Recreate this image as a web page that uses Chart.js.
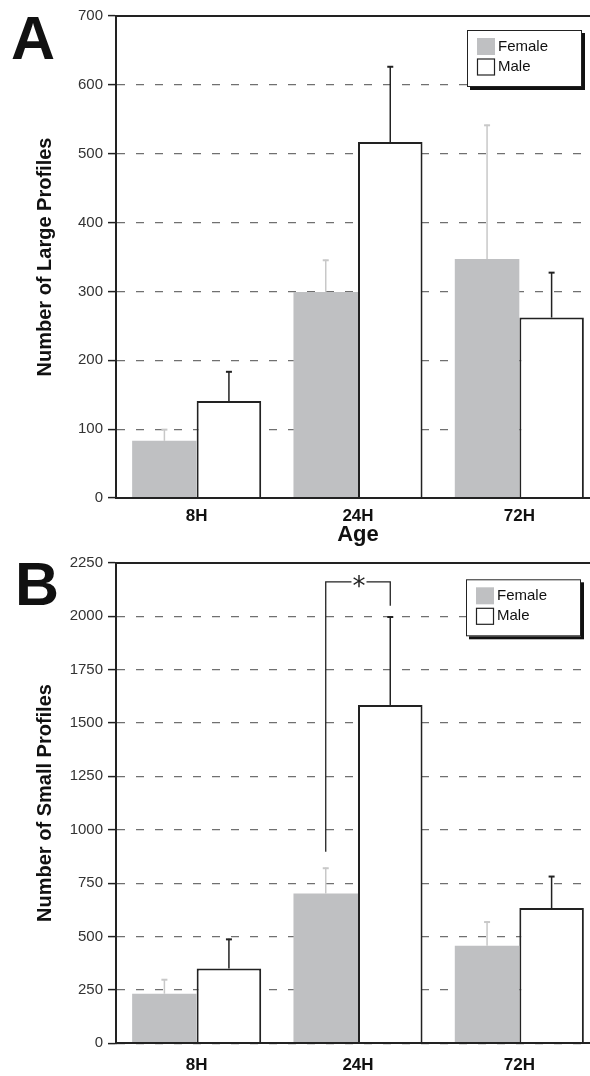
<!DOCTYPE html>
<html><head><meta charset="utf-8">
<script src="https://cdn.jsdelivr.net/npm/chart.js@4.4.0/dist/chart.umd.min.js"></script>
<style>
html,body{margin:0;padding:0;width:590px;height:1076px;overflow:hidden;background:#fff;}
.wrap{position:absolute;left:0;}
#wa{top:0;}
#wb{top:536px;}
canvas{display:block;}
</style></head><body>
<div class="wrap" id="wa"><canvas id="ca" width="610" height="548"></canvas></div>
<div class="wrap" id="wb"><canvas id="cb" width="610" height="540"></canvas></div>
<script>
// ---- data ----
const categories = ['8H', '24H', '72H'];
const seriesNames = ['Female', 'Male'];

const largeFemale    = [83, 299, 347];
const largeFemaleErr = [17, 47, 195];
const largeMale      = [141, 517, 262];
const largeMaleErr   = [43, 110, 66];
const largeTicks     = [0, 100, 200, 300, 400, 500, 600, 700];

const smallFemale    = [232, 701, 457];
const smallFemaleErr = [68, 121, 113];
const smallMale      = [350, 1584, 633];
const smallMaleErr   = [139, 414, 150];
const smallTicks     = [0, 250, 500, 750, 1000, 1250, 1500, 1750, 2000, 2250];

// significance bracket (values on the y scale)
const sigCategory = '24H';
const sigLevels   = [897, 2160, 2049]; // left leg start, bracket top, right leg end
const sigLabel    = '*';

const FONT = '"Liberation Sans", Arial, Helvetica, sans-serif';

const decor = {
  id: 'decor',
  afterDatasetsDraw(chart, args, o) {
    const ctx = chart.ctx;
    const y = chart.scales.y;
    // error bars
    chart.data.datasets.forEach((ds, di) => {
      const meta = chart.getDatasetMeta(di);
      meta.data.forEach((el, j) => {
        const top = y.getPixelForValue(ds.data[j] + ds.errors[j]);
        ctx.save();
        ctx.strokeStyle = ds.errColor;
        ctx.lineWidth = 1.5;
        ctx.beginPath();
        ctx.moveTo(el.x, el.y);
        ctx.lineTo(el.x, top);
        ctx.stroke();
        ctx.lineWidth = 2;
        ctx.beginPath();
        ctx.moveTo(el.x - 3, top + 0.5);
        ctx.lineTo(el.x + 3, top + 0.5);
        ctx.stroke();
        ctx.restore();
      });
    });
  },
  afterDraw(chart, args, o) {
    const ctx = chart.ctx;
    const y = chart.scales.y;
    const ca = chart.chartArea;
    // bracket
    if (o.bracket) {
      const idx = categories.indexOf(sigCategory);
      const xl = chart.getDatasetMeta(0).data[idx].x;
      const xr = chart.getDatasetMeta(1).data[idx].x;
      const yl = y.getPixelForValue(sigLevels[0]);
      const yt = y.getPixelForValue(sigLevels[1]);
      const yr = y.getPixelForValue(sigLevels[2]);
      const xm = (xl + xr) / 2 + 1;
      ctx.save();
      ctx.font = '26px "DejaVu Sans", sans-serif';
      const m = ctx.measureText(sigLabel);
      const gap = m.width / 2 + 1;
      ctx.strokeStyle = '#222';
      ctx.lineWidth = 1.3;
      ctx.beginPath();
      ctx.moveTo(xl, yl); ctx.lineTo(xl, yt); ctx.lineTo(xm - gap, yt);
      ctx.moveTo(xm + gap, yt); ctx.lineTo(xr, yt); ctx.lineTo(xr, yr);
      ctx.stroke();
      ctx.fillStyle = '#222';
      ctx.textAlign = 'center';
      ctx.textBaseline = 'alphabetic';
      const base = yt + (m.actualBoundingBoxAscent - m.actualBoundingBoxDescent) / 2;
      ctx.fillText(sigLabel, xm, base);
      ctx.restore();
    }
    // legend box
    const w = 115, h = 57;
    const bx = ca.right - o.legRight - w, by = ca.top + o.legTop;
    ctx.save();
    ctx.fillStyle = '#111';
    ctx.fillRect(bx + 3, by + 3, w, h);
    ctx.fillStyle = '#fff';
    ctx.fillRect(bx, by, w, h);
    ctx.strokeStyle = '#222';
    ctx.lineWidth = 1;
    ctx.strokeRect(bx + 0.5, by + 0.5, w - 1, h - 1);
    ctx.font = '15px ' + FONT;
    ctx.textBaseline = 'middle';
    ctx.textAlign = 'left';
    chart.data.datasets.forEach((ds, i) => {
      const cy = by + 16.5 + i * 20.5;
      if (i === 0) {
        ctx.fillStyle = ds.backgroundColor;
        ctx.fillRect(bx + 10, cy - 8.5, 18, 17);
      } else {
        ctx.fillStyle = '#fff';
        ctx.fillRect(bx + 10, cy - 8, 18, 16);
        ctx.strokeStyle = '#222';
        ctx.lineWidth = 1.2;
        ctx.strokeRect(bx + 10.5, cy - 8, 17, 16);
      }
      ctx.fillStyle = '#111';
      ctx.fillText(ds.label, bx + 31, cy);
    });
    // panel letter
    ctx.fillStyle = '#111';
    ctx.font = 'bold 61px ' + FONT;
    ctx.textBaseline = 'alphabetic';
    ctx.fillText(o.panel, o.panelX, o.panelY);
    ctx.restore();
  }
};

function makeChart(id, p) {
  return new Chart(document.getElementById(id), {
    type: 'bar',
    data: {
      labels: categories,
      datasets: [
        { label: seriesNames[0], data: p.female, errors: p.femaleErr, backgroundColor: '#bfc0c2',
          borderWidth: 0, errColor: '#c8c8c8' },
        { label: seriesNames[1], data: p.male, errors: p.maleErr, backgroundColor: '#ffffff',
          borderColor: '#222', borderWidth: 2, errColor: '#222' }
      ]
    },
    options: {
      responsive: false,
      animation: false,
      layout: { padding: { left: 0, top: p.padTop, right: 10, bottom: 0 } },
      datasets: { bar: { categoryPercentage: 0.8, barPercentage: 1.0 } },
      plugins: {
        legend: { display: false },
        tooltip: { enabled: false },
        decor: { bracket: p.bracket, legRight: p.legRight, legTop: p.legTop,
                 panel: p.panel, panelX: p.panelX, panelY: p.panelY }
      },
      scales: {
        x: {
          grid: { display: false, drawTicks: false },
          border: { display: true, color: '#222', width: 2, z: 1 },
          ticks: { color: '#111', font: { family: FONT, size: 17, weight: 'bold' }, padding: p.xPad },
          title: { display: !!p.xTitle, text: p.xTitle || '', color: '#111',
                   font: { family: FONT, size: 22, weight: 'bold' }, padding: { top: 0, bottom: 0 } },
          afterFit: s => { s.height = p.xHeight; }
        },
        x2: {
          type: 'category', position: 'top',
          grid: { display: false, drawTicks: false },
          ticks: { display: false },
          border: { display: true, color: '#222', width: 2 },
          afterFit: s => { s.height = 0; }
        },
        y: {
          min: p.ticks[0], max: p.ticks[p.ticks.length - 1],
          afterBuildTicks: s => { s.ticks = p.ticks.map(v => ({ value: v })); },
          grid: { color: '#707070', lineWidth: 1.2, drawTicks: true, tickLength: 8,
                  tickColor: '#222', tickWidth: 1.5, tickBorderDash: [] },
          border: { display: true, color: '#222', width: 2, dash: [8, 11] },
          ticks: { color: '#333', font: { family: FONT, size: 15 }, padding: 5, autoSkip: false,
                   callback: v => String(v) },
          title: { display: true, text: p.yTitle, color: '#111',
                   font: { family: FONT, size: 20, weight: 'bold' }, padding: { top: 33, bottom: 0 } },
          afterFit: s => { s.width = 116; }
        }
      }
    },
    plugins: [decor]
  });
}

makeChart('ca', {
  female: largeFemale, femaleErr: largeFemaleErr, male: largeMale, maleErr: largeMaleErr,
  ticks: largeTicks, yTitle: 'Number of Large Profiles', xTitle: 'Age',
  padTop: 16, xHeight: 50, xPad: 8, bracket: false, legRight: 18, legTop: 14,
  panel: 'A', panelX: 11, panelY: 59
});
makeChart('cb', {
  female: smallFemale, femaleErr: smallFemaleErr, male: smallMale, maleErr: smallMaleErr,
  ticks: smallTicks, yTitle: 'Number of Small Profiles', xTitle: '',
  padTop: 26.7, xHeight: 32.7, xPad: 12, bracket: true, legRight: 19, legTop: 16.6,
  panel: 'B', panelX: 15, panelY: 69
});
</script>
</body></html>
